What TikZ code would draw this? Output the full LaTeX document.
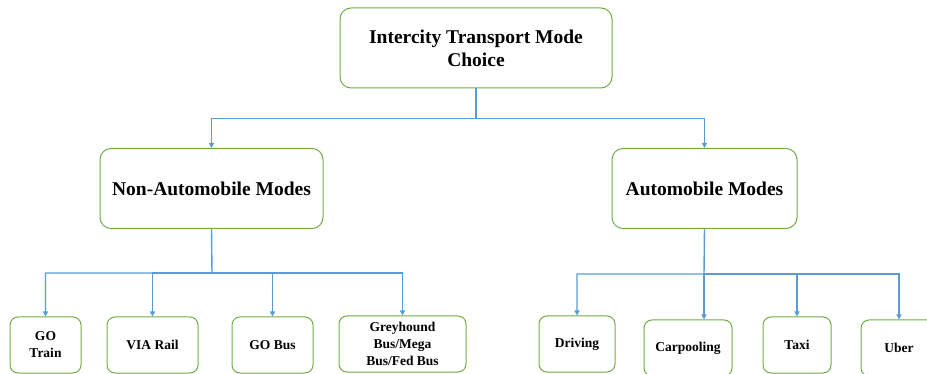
\documentclass[tikz,border=0pt]{standalone}
\usepackage{fontspec}
\setmainfont{Liberation Serif}
\usetikzlibrary{arrows.meta}
\definecolor{boxgreen}{HTML}{70AD47}
\definecolor{linkblue}{HTML}{5B9BD5}

\begin{document}
\begin{tikzpicture}[x=1pt,y=-1pt,line width=1pt,
    mode/.style={draw=boxgreen,align=center,inner sep=0pt},
    big/.style={mode,rounded corners=11pt,minimum height=80pt,font=\fontsize{19.5}{23}\selectfont\bfseries},
    small/.style={mode,rounded corners=8pt,minimum height=56pt,font=\fontsize{13.5}{17}\selectfont\bfseries},
    link/.style={draw=linkblue,line width=1.4pt,-{Triangle[width=5pt,length=5pt]}}]
        \clip (0,0) rectangle (927,374);

        \node[big, minimum width=272pt](choice) at (476, 48) {Intercity Transport Mode\\Choice};
        \node[big, minimum width=223pt](nonauto) at (211.5, 188.5) {Non-Automobile Modes};
        \node[big, minimum width=185pt](auto) at (704.5, 188.5) {Automobile Modes};

        \node[small, minimum width=71pt](gotrain) at (45.5, 345) {GO\\Train};
        \node[small, minimum width=91pt](viarail) at (152.5, 345) {VIA Rail};
        \node[small, minimum width=81pt](gobus) at (272.5, 345) {GO Bus};
        \node[small, minimum width=127pt](greyhound) at (402.5, 344) {Greyhound\\Bus/Mega\\Bus/Fed Bus};
        \node[small, minimum width=76pt](driving) at (577, 344) {Driving};
        \node[small, minimum width=88pt](carpool) at (688, 348) {Carpooling};
        \node[small, minimum width=68pt](taxi) at (797, 345) {Taxi};
        \node[small, minimum width=76pt](uber) at (899, 348) {Uber};

        \coordinate(lj) at (212, 273);
        \coordinate(rj) at (704, 274);

        \draw[link] (choice.south) -- ++(0, 30) -| (nonauto.north);
        \draw[link] (choice.south) -- ++(0, 30) -| (auto.north);

        \draw[link] (nonauto.south) -- (lj) -| (gotrain.north);
        \draw[link] (lj) -| (viarail.north);
        \draw[link] (lj) -| (gobus.north);
        \draw[link] (lj) -| (greyhound.north);

        \draw[link] (auto.south) -- (rj) -| (driving.north);
        \draw[link] (rj) -- (rj |- carpool.north);
        \draw[link] (rj) -| (taxi.north);
        \draw[link] (rj) -| (uber.north);
      \end{tikzpicture}
\end{document}
